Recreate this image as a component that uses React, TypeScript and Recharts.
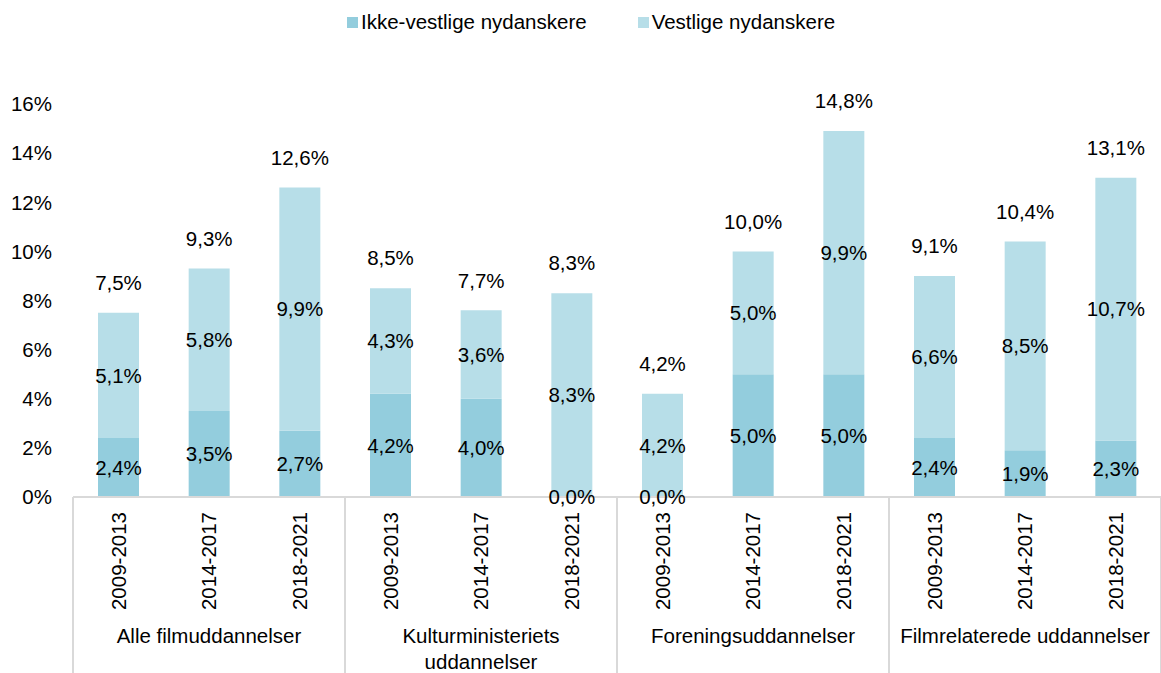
import React from 'react';
import { BarChart, Bar, XAxis, YAxis, LabelList, Legend } from 'recharts';

if (typeof document !== 'undefined') {
  document.body.style.margin = '0';
}

const FONT = "Arial, 'Liberation Sans', sans-serif";
const FS = 20.5;

const periods = [
  '2009-2013', '2014-2017', '2018-2021',
  '2009-2013', '2014-2017', '2018-2021',
  '2009-2013', '2014-2017', '2018-2021',
  '2009-2013', '2014-2017', '2018-2021',
];
const groups = [
  ['Alle filmuddannelser'],
  ['Kulturministeriets', 'uddannelser'],
  ['Foreningsuddannelser'],
  ['Filmrelaterede uddannelser'],
];
const ikkeVestlige = [2.4, 3.5, 2.7, 4.2, 4.0, 0.0, 0.0, 5.0, 5.0, 2.4, 1.9, 2.3];
const vestlige = [5.1, 5.8, 9.9, 4.3, 3.6, 8.3, 4.2, 5.0, 9.9, 6.6, 8.5, 10.7];
const totals = [7.5, 9.3, 12.6, 8.5, 7.7, 8.3, 4.2, 10.0, 14.8, 9.1, 10.4, 13.1];
const yTicks = [0, 2, 4, 6, 8, 10, 12, 14, 16];

const seriesNames = ['Ikke-vestlige nydanskere', 'Vestlige nydanskere'];
const COLORS = ['#93CDDD', '#B7DEE8'];

const data = periods.map((p, i) => ({
  key: `${i}`,
  period: p,
  ikke: ikkeVestlige[i],
  vest: vestlige[i],
  total: totals[i],
}));

const W = 1161;
const H = 673;
const LEFT = 73;
const BAND = (W - LEFT) / periods.length;

const fmt = (v: number) => `${v.toFixed(1).replace('.', ',')}%`;

const txt = { fontSize: FS, fontFamily: FONT, fill: '#000' };

const CategoryTick = (props: any) => {
  const { x, y, payload } = props;
  const i = payload && payload.index != null ? payload.index : props.index;
  const ty = y + 15;
  return (
    <g>
      <text x={x} y={ty} transform={`rotate(-90 ${x} ${ty})`} textAnchor="end" dy="0.35em" {...txt}>
        {periods[i]}
      </text>
      {i % 3 === 1 &&
        groups[Math.floor(i / 3)].map((line, k) => (
          <text key={k} x={x} y={y + 139 + k * 26} textAnchor="middle" dy="0.35em" {...txt}>
            {line}
          </text>
        ))}
      {i % 3 === 0 && (
        <line x1={x - BAND / 2} x2={x - BAND / 2} y1={y} y2={H} stroke="#d9d9d9" strokeWidth={2} />
      )}
      {i === periods.length - 1 && (
        <line x1={x + BAND / 2} x2={x + BAND / 2} y1={y} y2={H} stroke="#d9d9d9" strokeWidth={2} />
      )}
    </g>
  );
};

const TotalLabel = (props: any) => {
  const { x, y, width, value } = props;
  return (
    <text x={x + width / 2} y={y - 30} textAnchor="middle" dy="0.35em" {...txt}>
      {fmt(Number(value))}
    </text>
  );
};

// Zero-height lower segments are not drawn, so their "0,0%" label sits at the
// base of the upper segment.
const ZeroLowerLabel = (props: any) => {
  const { x, y, width, height, value } = props;
  if (Number(value) !== 0) return null;
  return (
    <text x={x + width / 2} y={y + height} textAnchor="middle" dy="0.35em" {...txt}>
      {fmt(0)}
    </text>
  );
};

const LegendContent = () => (
  <div
    style={{
      height: 44,
      display: 'flex',
      alignItems: 'center',
      paddingLeft: 347,
      fontFamily: FONT,
      fontSize: FS,
      color: '#000',
      boxSizing: 'border-box',
    }}
  >
    {seriesNames.map((n, k) => (
      <div key={n} style={{ display: 'flex', alignItems: 'center', marginRight: 51 }}>
        <span style={{ width: 11, height: 11, background: COLORS[k], display: 'inline-block', marginRight: 3 }} />
        <span>{n}</span>
      </div>
    ))}
  </div>
);

export default function App() {
  return (
    <div style={{ width: W, height: H, background: '#fff' }}>
      <BarChart
        width={W}
        height={H}
        data={data}
        margin={{ top: 60, right: 0, bottom: 0, left: 0 }}
        barSize={41}
      >
        <Legend
          verticalAlign="top"
          align="left"
          content={<LegendContent />}
          wrapperStyle={{ top: 0, left: 0, width: W, height: 44 }}
        />
        <XAxis
          dataKey="key"
          interval={0}
          height={176}
          tickSize={0}
          tickMargin={0}
          axisLine={{ stroke: '#d9d9d9', strokeWidth: 2 }}
          tickLine={false}
          tick={<CategoryTick />}
        />
        <YAxis
          width={LEFT}
          domain={[0, 16]}
          ticks={yTicks}
          tickFormatter={(v: number) => `${v}%`}
          axisLine={false}
          tickLine={false}
          tickSize={0}
          tickMargin={21}
          tick={txt}
        />
        <Bar dataKey="ikke" name={seriesNames[0]} stackId="a" fill={COLORS[0]} isAnimationActive={false}>
          <LabelList dataKey="ikke" position="center" formatter={(v: any) => fmt(Number(v))} style={txt} />
        </Bar>
        <Bar dataKey="vest" name={seriesNames[1]} stackId="a" fill={COLORS[1]} isAnimationActive={false}>
          <LabelList dataKey="vest" position="center" formatter={(v: any) => fmt(Number(v))} style={txt} />
          <LabelList dataKey="total" content={<TotalLabel />} />
          <LabelList dataKey="ikke" content={<ZeroLowerLabel />} />
        </Bar>
      </BarChart>
    </div>
  );
}
